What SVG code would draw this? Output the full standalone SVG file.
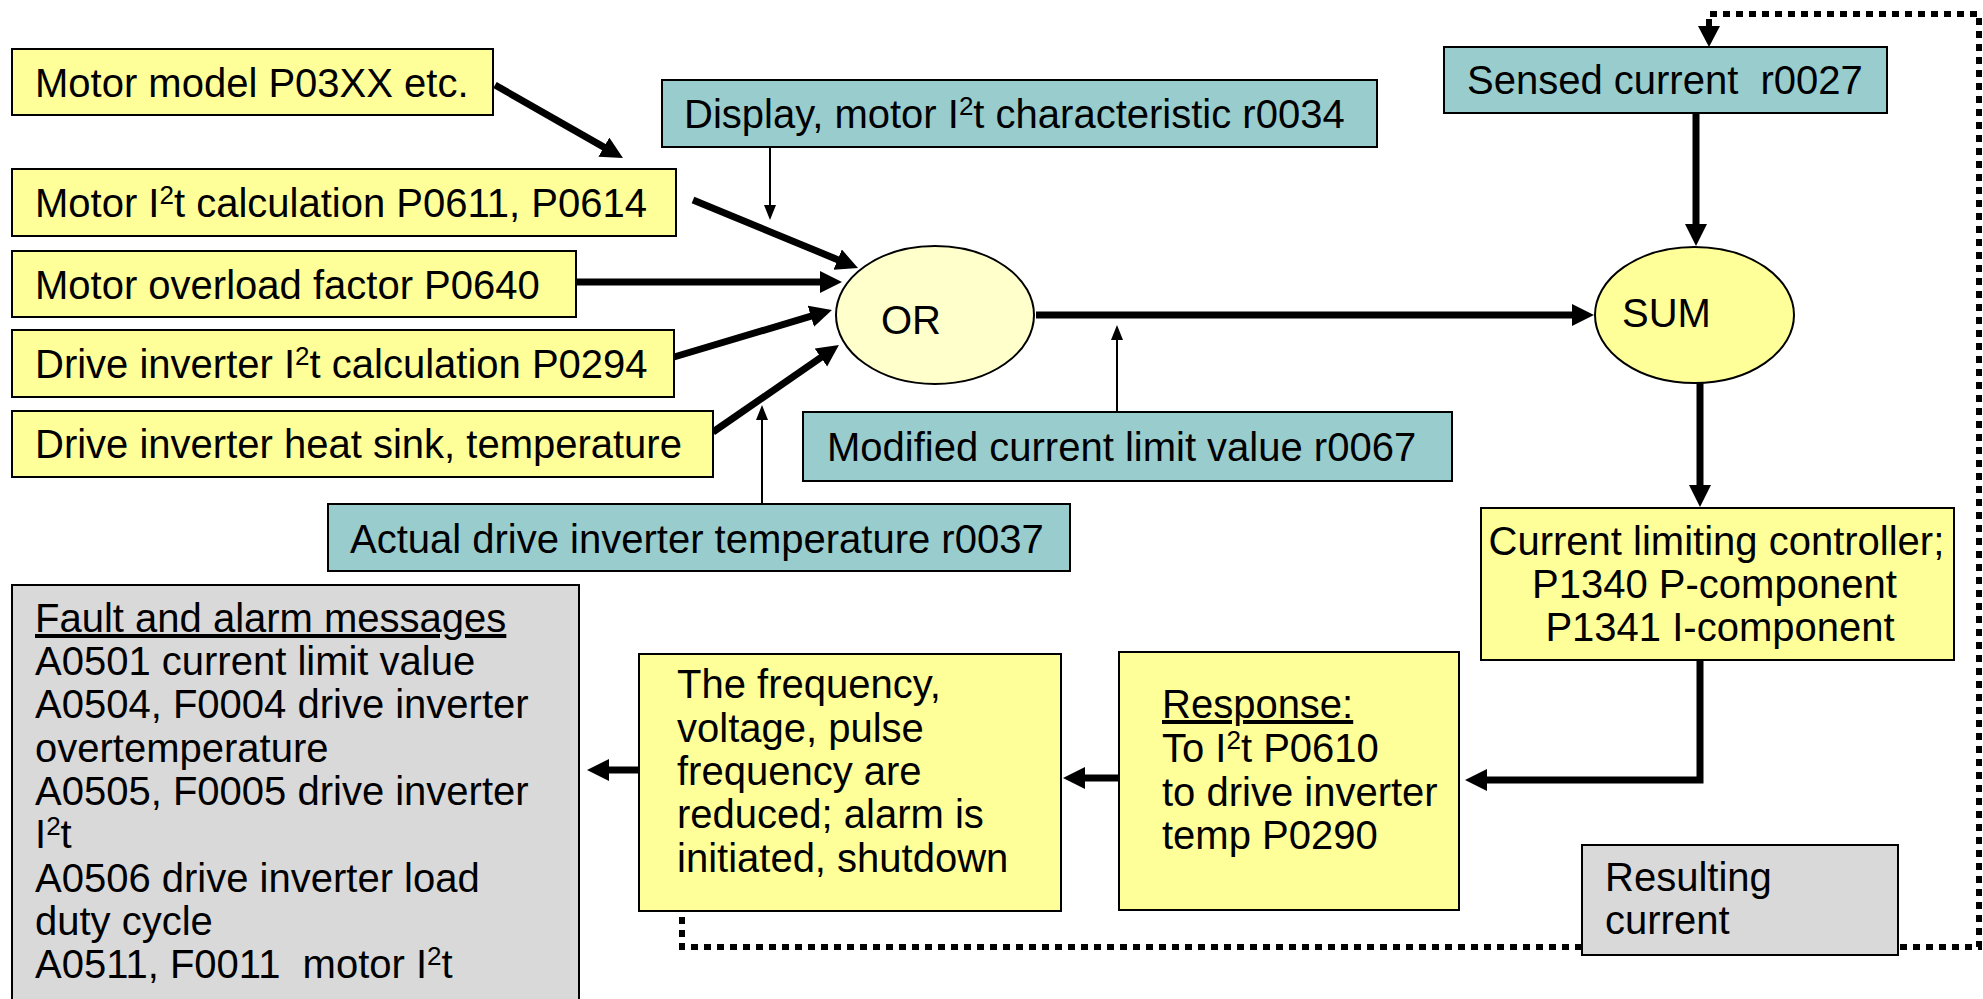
<svg xmlns="http://www.w3.org/2000/svg" width="1983" height="999" viewBox="0 0 1983 999">
  <style>
    text { font-family: "Liberation Sans", Arial, Helvetica, sans-serif; font-size: 40px; fill: #000; }
    .pre { white-space: pre; }
    .yel { fill: #FFFF99; stroke: #000; stroke-width: 2; }
    .teal { fill: #99CCCC; stroke: #000; stroke-width: 2; }
    .grey { fill: #D9D9D9; stroke: #000; stroke-width: 2; }
    .thick { fill: none; stroke: #000; stroke-width: 7; }
    .thin { fill: none; stroke: #000; stroke-width: 2; }
    .dots { fill: none; stroke: #000; stroke-width: 6; stroke-dasharray: 7 6; }
    .sup { font-size: 26px; }
  </style>
  <defs>
    <marker id="head" markerUnits="userSpaceOnUse" markerWidth="24" markerHeight="24" refX="2" refY="11" orient="auto">
      <path d="M0,0 L22,11 L0,22 z" fill="#000"/>
    </marker>
    <marker id="headThin" markerUnits="userSpaceOnUse" markerWidth="16" markerHeight="14" refX="1" refY="6" orient="auto">
      <path d="M0,0 L15,6 L0,12 z" fill="#000"/>
    </marker>
  </defs>

  <rect width="1983" height="999" fill="#fff"/>

  <!-- connectors -->
  <g id="connectors">
    <path class="thick" d="M495,85 L605.6,148.1" marker-end="url(#head)"/>
    <path class="thick" d="M693,200 L839.5,260.4" marker-end="url(#head)"/>
    <path class="thick" d="M576,282 L822,282" marker-end="url(#head)"/>
    <path class="thick" d="M674,357 L812.8,315.7" marker-end="url(#head)"/>
    <path class="thick" d="M713,432 L822.5,356.4" marker-end="url(#head)"/>
    <path class="thin" d="M770,147 L770,206" marker-end="url(#headThin)"/>
    <path class="thin" d="M762,504 L762,419" marker-end="url(#headThin)"/>
    <path class="thin" d="M1117,412 L1117,339" marker-end="url(#headThin)"/>
    <path class="thick" d="M1036,315 L1574,315" marker-end="url(#head)"/>
    <path class="thick" d="M1696,113 L1696,226" marker-end="url(#head)"/>
    <path class="thick" d="M1700,383 L1700,487" marker-end="url(#head)"/>
    <path class="thick" d="M1700,660 L1700,780 L1485,780" marker-end="url(#head)"/>
    <path class="thick" d="M1119,778 L1083,778" marker-end="url(#head)"/>
    <path class="thick" d="M639,770 L607,770" marker-end="url(#head)"/>
    <!-- feedback of the resulting current back to the sensed current -->
    <path class="dots" d="M682,917 L682,947 L1979,947 L1979,14 L1709,14 L1709,27"/>
    <path d="M1698,26 L1720,26 L1709,47 z" fill="#000"/>
  </g>

  <g id="motor-model">
    <rect class="yel" x="12" y="49" width="481" height="66"/>
    <text x="35" y="97">Motor model P03XX etc.</text>
  </g>
  <g id="motor-i2t">
    <rect class="yel" x="12" y="169" width="664" height="67"/>
    <text x="35" y="217">Motor I<tspan class="sup" dy="-13">2</tspan><tspan dy="13">t calculation P0611, P0614</tspan></text>
  </g>
  <g id="overload-factor">
    <rect class="yel" x="12" y="251" width="564" height="66"/>
    <text x="35" y="299">Motor overload factor P0640</text>
  </g>
  <g id="inverter-i2t">
    <rect class="yel" x="12" y="330" width="662" height="67"/>
    <text x="35" y="378">Drive inverter I<tspan class="sup" dy="-13">2</tspan><tspan dy="13">t calculation P0294</tspan></text>
  </g>
  <g id="heat-sink">
    <rect class="yel" x="12" y="411" width="701" height="66"/>
    <text x="35" y="458">Drive inverter heat sink, temperature</text>
  </g>

  <g id="display-r0034">
    <rect class="teal" x="662" y="80" width="715" height="67"/>
    <text x="684" y="128">Display, motor I<tspan class="sup" dy="-13">2</tspan><tspan dy="13">t characteristic r0034</tspan></text>
  </g>
  <g id="sensed-current">
    <rect class="teal" x="1444" y="47" width="443" height="66"/>
    <text class="pre" x="1467" y="94">Sensed current  r0027</text>
  </g>
  <g id="modified-limit">
    <rect class="teal" x="803" y="412" width="649" height="69"/>
    <text x="827" y="461">Modified current limit value r0067</text>
  </g>
  <g id="actual-temp">
    <rect class="teal" x="328" y="504" width="742" height="67"/>
    <text x="350" y="553">Actual drive inverter temperature r0037</text>
  </g>

  <g id="or-gate">
    <ellipse cx="935" cy="315" rx="99" ry="69" fill="#FFFFCC" stroke="#000" stroke-width="2"/>
    <text x="881" y="334">OR</text>
  </g>
  <g id="sum">
    <ellipse cx="1694.5" cy="315" rx="99.5" ry="68" fill="#FFFF99" stroke="#000" stroke-width="2"/>
    <text x="1622" y="327">SUM</text>
  </g>

  <g id="limit-controller">
    <rect class="yel" x="1481" y="508" width="473" height="152"/>
    <text text-anchor="middle">
      <tspan x="1722" y="555">Current limiting controller;</tspan>
      <tspan x="1720" y="598">P1340 P-component</tspan>
      <tspan x="1720" y="641">P1341 I-component</tspan>
    </text>
  </g>

  <g id="response">
    <rect class="yel" x="1119" y="652" width="340" height="258"/>
    <text x="1162" y="718" text-decoration="underline">Response:</text>
    <text x="1162" y="762">To I<tspan class="sup" dy="-13">2</tspan><tspan dy="13">t P0610</tspan></text>
    <text x="1162" y="806">to drive inverter</text>
    <text x="1162" y="849">temp P0290</text>
  </g>

  <g id="reduction">
    <rect class="yel" x="639" y="654" width="422" height="257"/>
    <text>
      <tspan x="677" y="698">The frequency,</tspan>
      <tspan x="677" y="742">voltage, pulse</tspan>
      <tspan x="677" y="785">frequency are</tspan>
      <tspan x="677" y="828">reduced; alarm is</tspan>
      <tspan x="677" y="872">initiated, shutdown</tspan>
    </text>
  </g>

  <g id="resulting-current">
    <rect class="grey" x="1582" y="845" width="316" height="110"/>
    <text x="1605" y="891">Resulting</text>
    <text x="1605" y="934">current</text>
  </g>

  <g id="fault-messages">
    <rect class="grey" x="12" y="585" width="567" height="430"/>
    <text x="35" y="632" text-decoration="underline">Fault and alarm messages</text>
    <text x="35" y="675">A0501 current limit value</text>
    <text x="35" y="718">A0504, F0004 drive inverter</text>
    <text x="35" y="762">overtemperature</text>
    <text x="35" y="805">A0505, F0005 drive inverter</text>
    <text x="35" y="848">I<tspan class="sup" dy="-13">2</tspan><tspan dy="13">t</tspan></text>
    <text x="35" y="892">A0506 drive inverter load</text>
    <text x="35" y="935">duty cycle</text>
    <text class="pre" x="35" y="978">A0511, F0011  motor I<tspan class="sup" dy="-13">2</tspan><tspan dy="13">t</tspan></text>
  </g>
</svg>
